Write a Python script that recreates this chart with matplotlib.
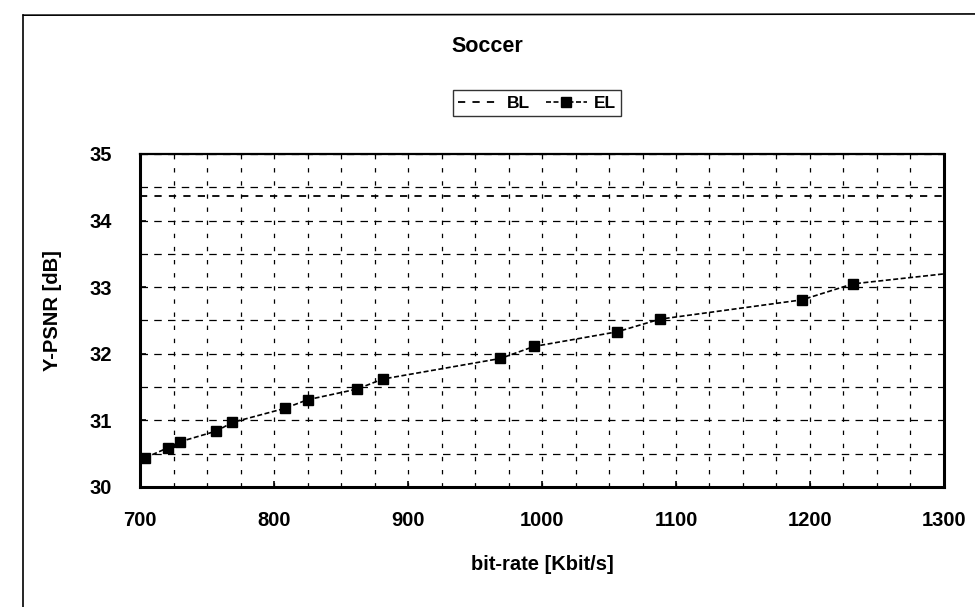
import numpy as np
import matplotlib
matplotlib.use('Agg')
import matplotlib.pyplot as plt
from matplotlib.lines import Line2D

plt.rcParams['font.family'] = ['Liberation Sans', 'DejaVu Sans']
plt.rcParams['font.weight'] = 'bold'

# data
el_rate = [704, 721, 730, 757, 769, 808, 825, 862, 881, 969, 994, 1056, 1088, 1194, 1232, 1300]
el_psnr = [30.44, 30.59, 30.68, 30.84, 30.97, 31.18, 31.31, 31.47, 31.62, 31.93, 32.11, 32.33, 32.52, 32.81, 33.05, 33.20]
bl_rate = [700, 1300]
bl_psnr = [34.37, 34.37]

fig = plt.figure(figsize=(9.75, 6.07), dpi=100)
ax = fig.add_axes([0.1436, 0.1977, 0.8246, 0.5486])

ax.plot(bl_rate, bl_psnr, color='black', lw=1.3, ls=(0, (4, 4)), label='BL')
ax.plot(el_rate, el_psnr, color='black', lw=1.2, ls=(0, (3, 1.5)),
        marker='s', ms=6.5, markevery=list(range(len(el_rate) - 1)), label='EL')

ax.set_xlim(700, 1300)
ax.set_ylim(30, 35)
ax.set_xticks(np.arange(700, 1301, 100))
ax.set_yticks(np.arange(30, 36, 1))
ax.set_xticks(np.arange(700, 1301, 25), minor=True)
ax.set_yticks(np.arange(30, 35.01, 0.5), minor=True)
ax.tick_params(axis='x', which='major', direction='in', length=4, width=1.2,
               labelsize=14.5, pad=17)
ax.tick_params(axis='y', which='major', direction='in', length=4, width=1.2,
               labelsize=14.5, pad=20)
ax.tick_params(axis='both', which='minor', length=0)

ax.grid(True, which='both', axis='x', color='black', lw=0.9, ls=(0, (3.5, 7)))
ax.grid(True, which='both', axis='y', color='black', lw=0.9, ls=(0, (6, 5)))

for s in ax.spines.values():
    s.set_linewidth(2.2)
ax.spines['top'].set_linewidth(1.6)

for lab in ax.get_xticklabels() + ax.get_yticklabels():
    lab.set_fontweight('bold')

ax.set_xlabel('bit-rate [Kbit/s]', fontsize=14.5, fontweight='bold')
ax.xaxis.set_label_coords(0.5, -0.205)
ax.set_ylabel('Y-PSNR [dB]', fontsize=14.5, fontweight='bold')
ax.yaxis.set_label_coords(-0.097, 0.53)

fig.text(0.50, 0.924, 'Soccer', ha='center', va='center', fontsize=15.5, fontweight='bold')

leg = fig.legend(loc='center', bbox_to_anchor=(0.551, 0.830), ncol=2, fontsize=12.5,
                 frameon=True, fancybox=False, edgecolor='black', handlelength=2.4,
                 columnspacing=0.9, handletextpad=0.4, borderpad=0.3)
leg.get_frame().set_linewidth(1.0)
for t in leg.get_texts():
    t.set_fontweight('bold')

# chart area border (top and left edges visible in the scan)
fig.add_artist(Line2D([0.024, 1.0], [0.975, 0.977], color='black', lw=1.2,
                      transform=fig.transFigure))
fig.add_artist(Line2D([0.024, 0.024], [0.0, 0.975], color='black', lw=1.2,
                      transform=fig.transFigure))

fig.savefig('out.png', dpi=100)
